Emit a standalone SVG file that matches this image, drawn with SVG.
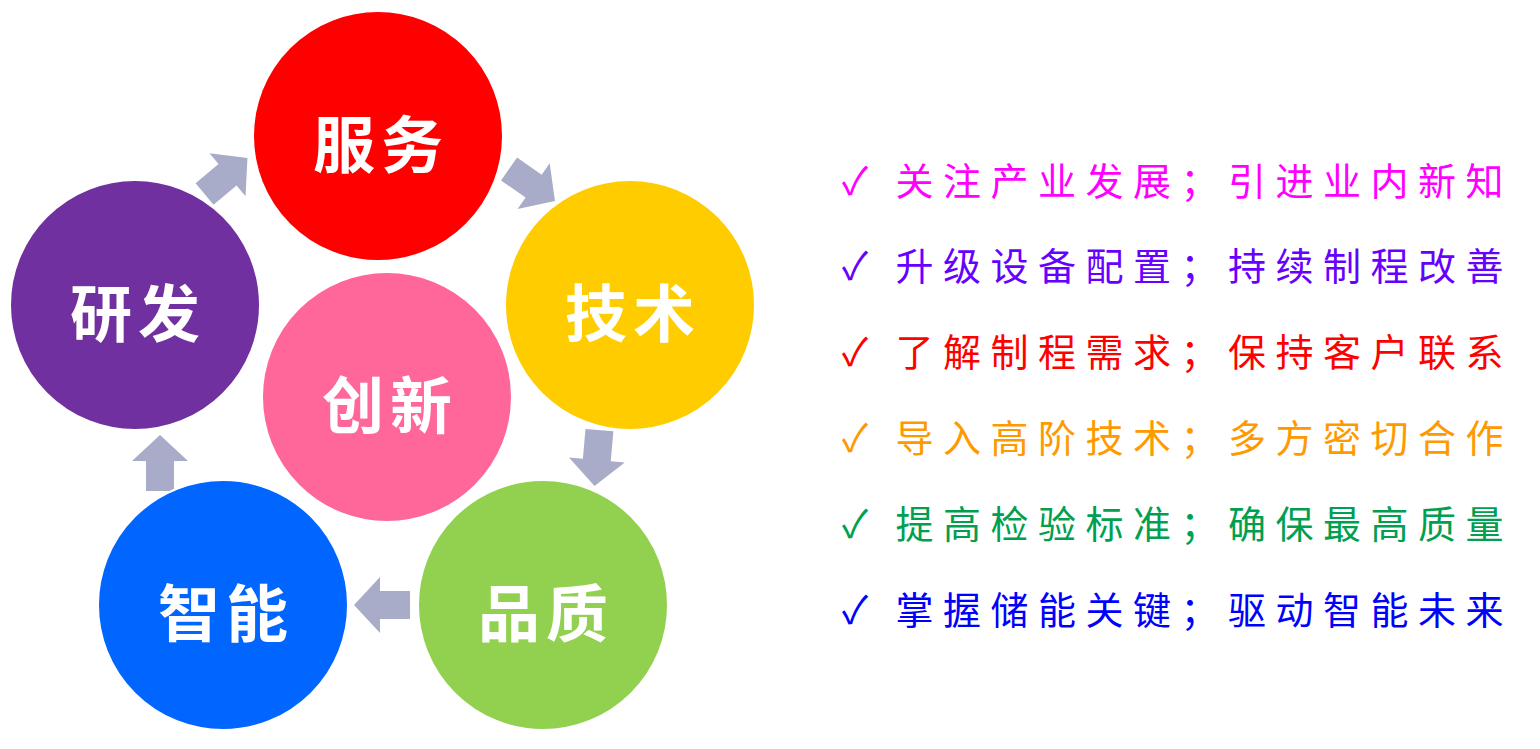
<svg xmlns="http://www.w3.org/2000/svg" width="1540" height="749" viewBox="0 0 1540 749">
<style>
.c{stroke:#fff;stroke-width:2}
.ct{font-family:"Noto Sans CJK SC",sans-serif;font-size:62px;font-weight:bold;fill:#fff;text-anchor:middle;letter-spacing:6px}
.l{font-family:"Noto Sans CJK SC",sans-serif;font-size:38px;letter-spacing:9.5px}
.ar{fill:#A9ACC8}
</style>
<defs><path id="a" d="M-28,-14 H2 V-28 L28,0 L2,28 V14 H-28 Z"/></defs>
<rect width="1540" height="749" fill="#fff"/>
<g id="connectors">
<use href="#a" class="ar" transform="translate(226,176) rotate(-40)"/>
<use href="#a" class="ar" transform="translate(532,185) rotate(35)"/>
<use href="#a" class="ar" transform="translate(597,458) rotate(95)"/>
<use href="#a" class="ar" transform="translate(382,605) rotate(180)"/>
<use href="#a" class="ar" transform="translate(160,463) rotate(-90)"/>
</g>
<g id="n-fuwu"><circle class="c" cx="378" cy="136" r="125" fill="#FF0000"/><text class="ct" x="381" y="168">服务</text></g>
<g id="n-jishu"><circle class="c" cx="630" cy="305" r="125" fill="#FFCC00"/><text class="ct" x="633" y="337">技术</text></g>
<g id="n-pinzhi"><circle class="c" cx="543" cy="605" r="125" fill="#92D050"/><text class="ct" x="546" y="637">品质</text></g>
<g id="n-zhineng"><circle class="c" cx="223" cy="605" r="125" fill="#0066FF"/><text class="ct" x="226" y="637">智能</text></g>
<g id="n-yanfa"><circle class="c" cx="135" cy="305" r="125" fill="#7030A0"/><text class="ct" x="138" y="337">研发</text></g>
<g id="n-chuangxin"><circle class="c" cx="387" cy="397" r="125" fill="#FF6699"/><text class="ct" x="390" y="429">创新</text></g>
<g id="list">
<text class="l" x="842" y="195" fill="#FF00FF">✓ 关注产业发展；引进业内新知</text>
<text class="l" x="842" y="280" fill="#6600FF">✓ 升级设备配置；持续制程改善</text>
<text class="l" x="842" y="366" fill="#FF0000">✓ 了解制程需求；保持客户联系</text>
<text class="l" x="842" y="452" fill="#FF9900">✓ 导入高阶技术；多方密切合作</text>
<text class="l" x="842" y="538" fill="#00A050">✓ 提高检验标准；确保最高质量</text>
<text class="l" x="842" y="624" fill="#0000FF">✓ 掌握储能关键；驱动智能未来</text>
</g>
</svg>
